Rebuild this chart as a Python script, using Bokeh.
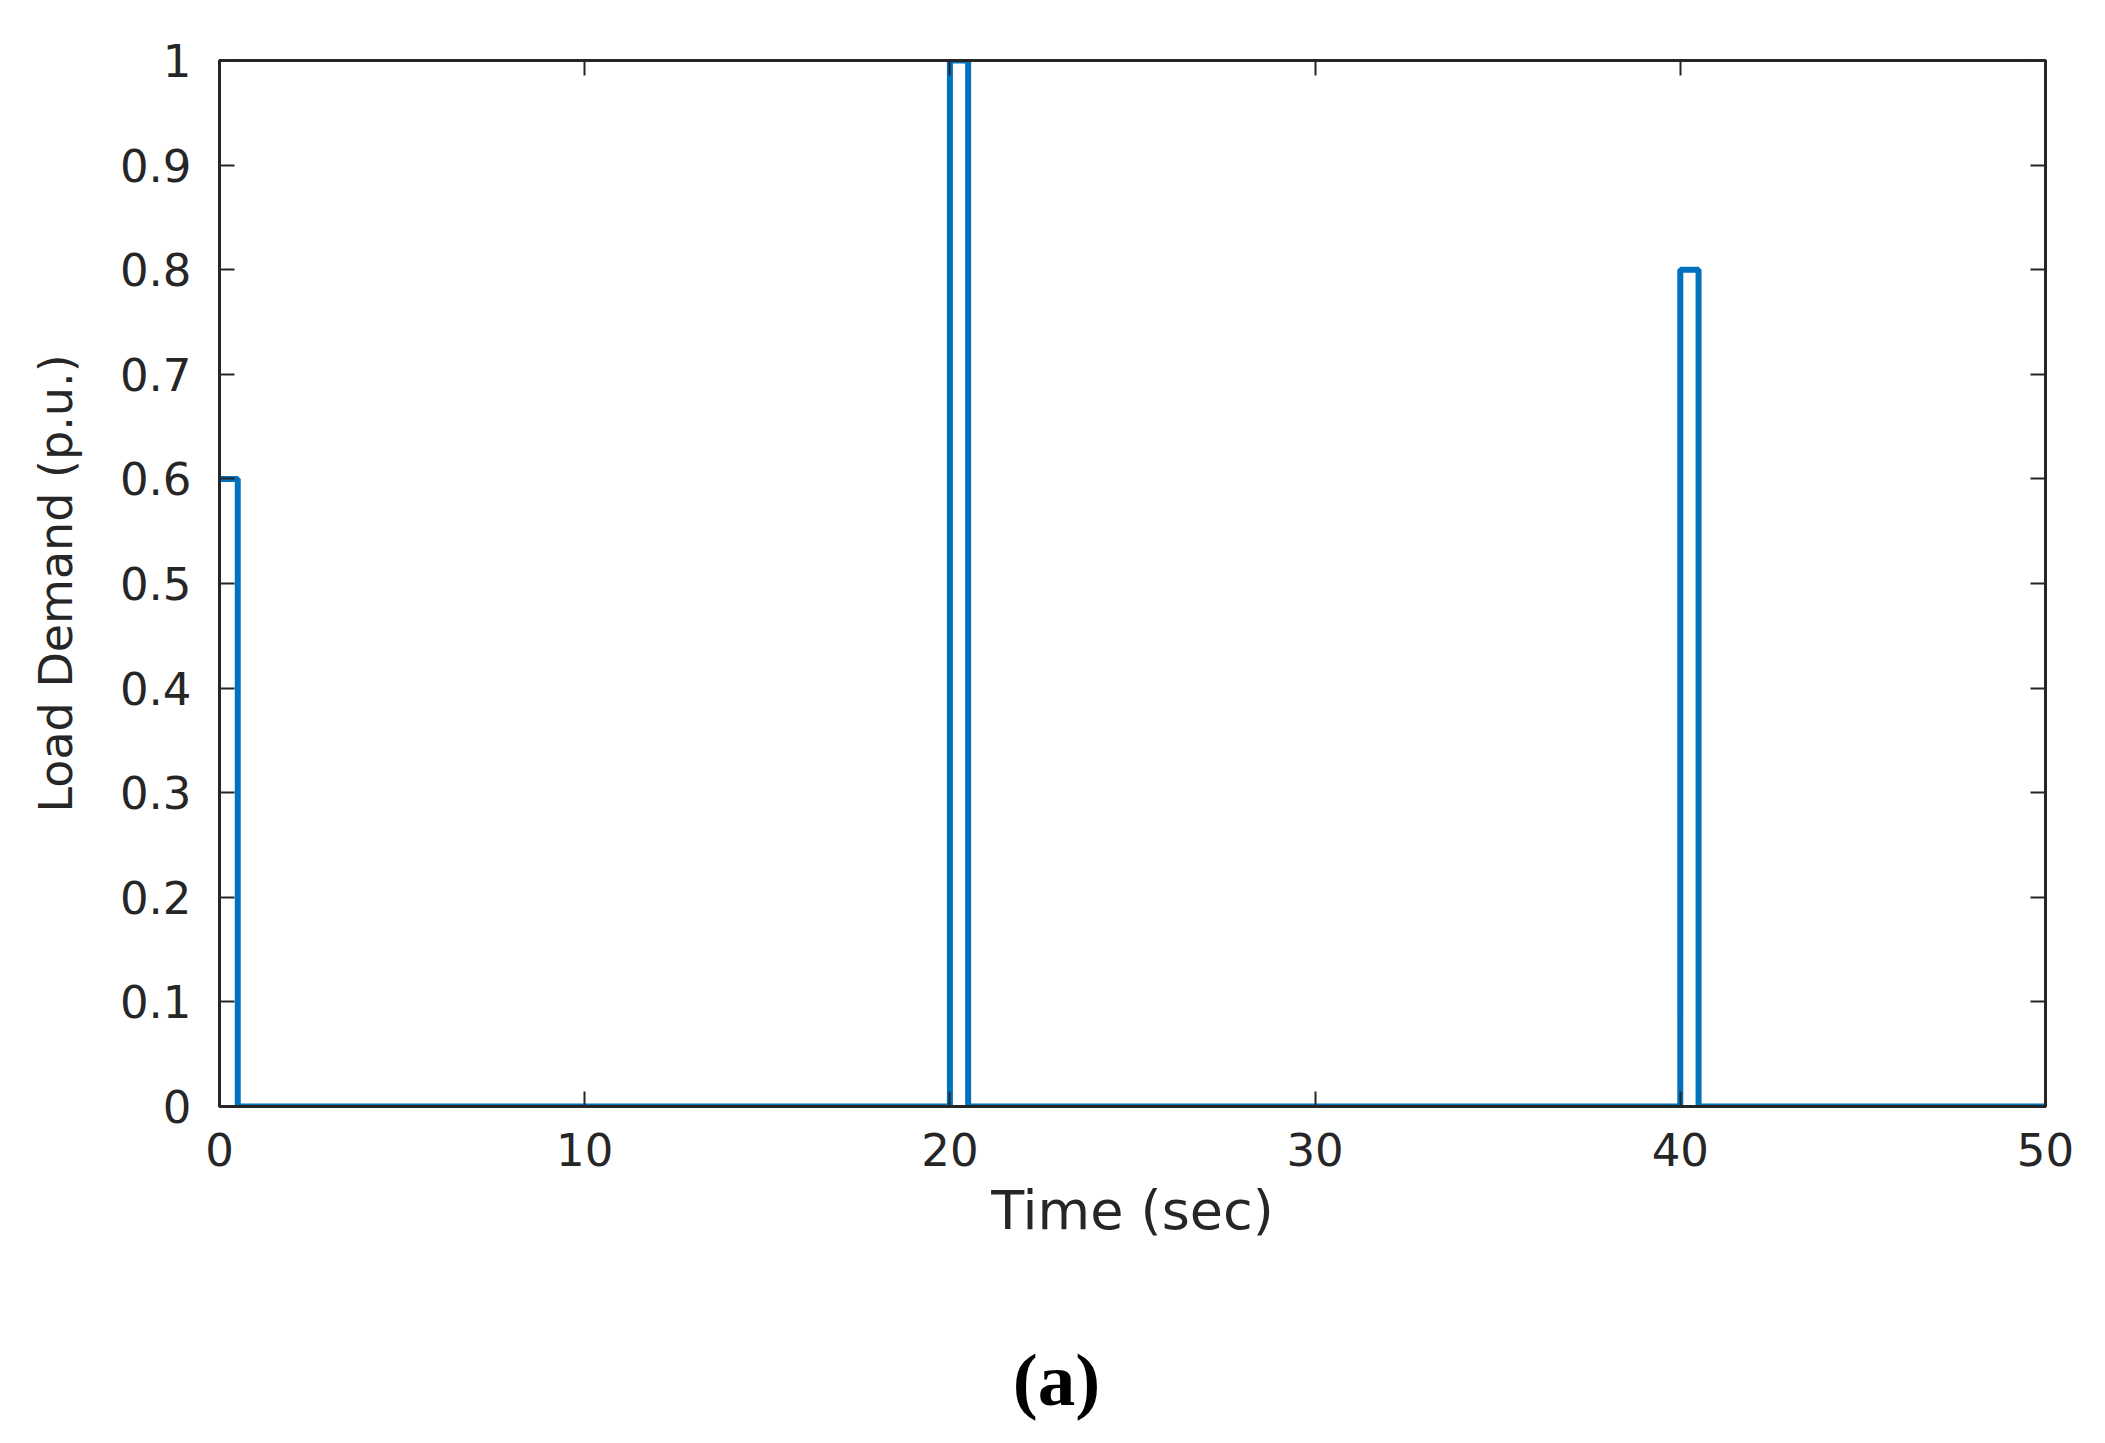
from bokeh.plotting import figure
from bokeh.models import Range1d, FixedTicker, LinearAxis, Div
from bokeh.layouts import column
from bokeh.embed import file_html
from bokeh.resources import INLINE

# Data: load demand step profile (time in sec, demand in p.u.)
time_s = [0, 0.5, 20, 20.5, 40, 40.5, 50]
demand = [0.6, 0, 1.0, 0, 0.8, 0, 0]

x_ticks = [0, 10, 20, 30, 40, 50]
x_tick_labels = ["0", "10", "20", "30", "40", "50"]
y_ticks = [0, 0.1, 0.2, 0.3, 0.4, 0.5, 0.6, 0.7, 0.8, 0.9, 1]
y_tick_labels = ["0", "0.1", "0.2", "0.3", "0.4", "0.5", "0.6", "0.7", "0.8", "0.9", "1"]

AX = "#262626"
LINE = "#0072BD"
FONT = "DejaVu Sans"

p = figure(width=2097, height=1266, output_backend="svg", toolbar_location=None,
           x_range=Range1d(0, 50), y_range=Range1d(0, 1),
           min_border_left=219, min_border_right=52, min_border_top=60, min_border_bottom=160,
           background_fill_color="white", border_fill_color="white")

p.step(x=time_s, y=demand, mode="after", line_color=LINE, line_width=6)

p.xgrid.visible = False
p.ygrid.visible = False
p.outline_line_color = AX
p.outline_line_width = 3

def style_axis(ax, ticks, labels, show_labels=True):
    ax.ticker = FixedTicker(ticks=ticks)
    ax.axis_line_color = AX
    ax.axis_line_width = 3
    ax.major_tick_in = 15
    ax.major_tick_out = 0
    ax.minor_tick_in = 0
    ax.minor_tick_out = 0
    ax.major_tick_line_color = AX
    ax.major_tick_line_width = 2
    ax.major_label_text_font = FONT
    if show_labels:
        ax.major_label_overrides = {t: l for t, l in zip(ticks, labels)}
        ax.major_label_text_color = AX
        ax.major_label_text_font_size = "45px"
    else:
        ax.major_label_text_color = None
        ax.major_label_standoff = 0

xa = p.xaxis[0]
style_axis(xa, x_ticks, x_tick_labels)
xa.major_label_standoff = 26
xa.axis_label = "Time (sec)"
xa.axis_label_text_font = FONT
xa.axis_label_text_font_size = "54px"
xa.axis_label_text_font_style = "normal"
xa.axis_label_text_color = AX
xa.axis_label_standoff = 10

ya = p.yaxis[0]
style_axis(ya, y_ticks, y_tick_labels)
ya.major_label_standoff = 28
ya.axis_label = "Load Demand (p.u.)"
ya.axis_label_text_font = FONT
ya.axis_label_text_font_size = "46px"
ya.axis_label_text_font_style = "normal"
ya.axis_label_text_color = AX
ya.axis_label_standoff = 34

top = LinearAxis()
style_axis(top, x_ticks, x_tick_labels, show_labels=False)
p.add_layout(top, "above")
right = LinearAxis()
style_axis(right, y_ticks, y_tick_labels, show_labels=False)
p.add_layout(right, "right")

cap = Div(text="<b>(a)</b>", width=2097, height=170,
          styles={"font-family": "'Liberation Serif', 'Times New Roman', serif",
                  "font-size": "75px", "font-weight": "bold", "color": "black",
                  "line-height": "1", "padding-top": "76px", "padding-left": "16px",
                  "text-align": "center", "box-sizing": "border-box",
                  "width": "2097px", "margin": "0"})

layout = column(p, cap, spacing=0)

open("out.html", "w").write(file_html(layout, INLINE))
